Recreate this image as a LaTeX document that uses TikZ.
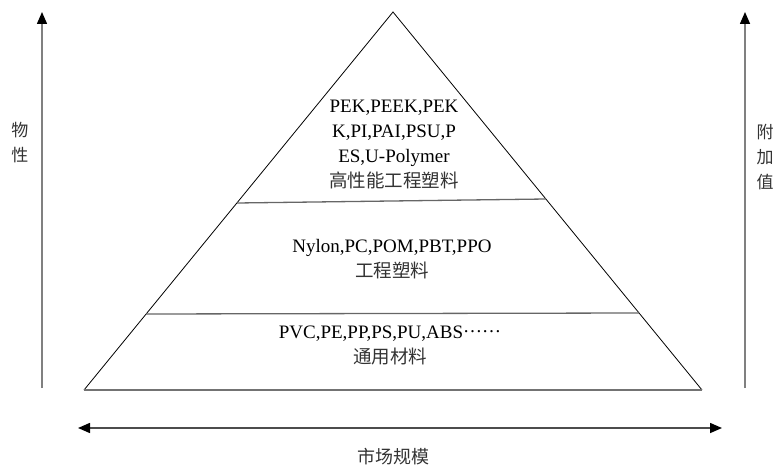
\documentclass[tikz,border=0pt]{standalone}
\usepackage{fontspec}
\setmainfont{Liberation Serif}
\newfontfamily\cjk{Noto Sans CJK SC}
\usetikzlibrary{arrows.meta}
\begin{document}
\begin{tikzpicture}[x=1pt,y=-1pt,
  edge/.style={draw=black,line width=0.8pt,line join=miter},
  divider/.style={draw=black!60,line width=1.3pt},
  axis/.style={draw=black!50,line width=1.5pt,-{Triangle[width=10pt,length=12pt,color=black]}},
  haxis/.style={draw=black!70,line width=1.5pt,{Triangle[width=10pt,length=12pt,color=black]}-{Triangle[width=10pt,length=12pt,color=black]}},
  blocktext/.style={align=center,font=\fontsize{19}{25}\selectfont,inner sep=0pt},
  sidetext/.style={align=center,font=\cjk\fontsize{17}{25}\selectfont,text=black!80,inner sep=0pt}]
\useasboundingbox (0,0) rectangle (776,468);
% triangle
\coordinate (apex) at (393,12);
\coordinate (bl) at (84,390);
\coordinate (br) at (702,390);
\draw[edge] (bl) -- (apex) -- (br);
\draw[draw=black!55,line width=1.4pt] (bl) -- (br);
% dividers
\coordinate (u1) at (237,203);
\coordinate (u2) at (546,199);
\coordinate (l1) at (146,314);
\coordinate (l2) at (639,313);
\draw[divider] (u1) -- (u2);
\draw[divider] (l1) -- (l2);
% texts
\node[blocktext] (top) at (394,145) {PEK,PEEK,PEK\\K,PI,PAI,PSU,P\\ES,U-Polymer\\{\cjk\fontsize{18.5}{25}\selectfont\color{black!80}高性能工程塑料}};
\node[blocktext] (mid) at (392,259) {Nylon,PC,POM,PBT,PPO\\{\cjk\fontsize{18.5}{25}\selectfont\color{black!80}工程塑料}};
\node[blocktext] (bot) at (390,345) {PVC,PE,PP,PS,PU,ABS\raisebox{0.28em}{……}\\{\cjk\fontsize{18.5}{25}\selectfont\color{black!80}通用材料}};
% axes
\coordinate (la0) at (42,388);
\coordinate (la1) at (42,12);
\coordinate (ra0) at (745,388);
\coordinate (ra1) at (745,12);
\coordinate (ha0) at (78,428);
\coordinate (ha1) at (722,428);
\draw[axis] (la0) -- (la1);
\draw[axis] (ra0) -- (ra1);
\draw[haxis] (ha0) -- (ha1);
\node[sidetext] (wx) at (20,143) {物\\性};
\node[sidetext] (fjz) at (765,157) {附\\加\\值};
\node[sidetext,font=\cjk\fontsize{18}{25}\selectfont] (scgm) at (393,457) {市场规模};
\end{tikzpicture}
\end{document}
